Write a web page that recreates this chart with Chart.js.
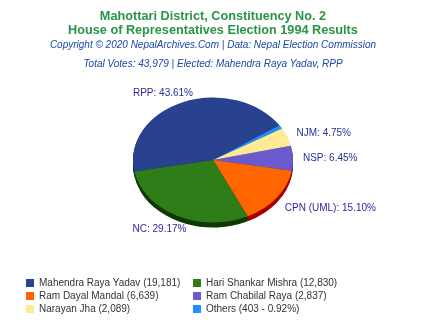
<!DOCTYPE html>
<html><head><meta charset="utf-8">
<script src="https://cdn.jsdelivr.net/npm/chart.js@4"></script>
<style>
html,body{margin:0;padding:0;background:#fff;}
#wrap{position:relative;width:426px;height:320px;overflow:hidden;font-family:"Liberation Sans",Arial,sans-serif;}
#c{position:absolute;left:0;top:0;}
.t{position:absolute;left:0;width:426px;text-align:center;white-space:nowrap;}
.h{color:#2a9446;font-weight:bold;font-size:12.7px;}
.s{color:#1c46a8;font-style:italic;font-size:10px;}
#legend{position:absolute;left:26px;top:277px;font-size:10px;color:#333;}
.li{position:absolute;white-space:nowrap;height:12px;line-height:12px;}
.li i{position:absolute;left:0;top:2px;width:8px;height:8px;}
.li span{position:absolute;left:13px;top:0;}
</style></head><body>
<div id="wrap">
<canvas id="c" width="426" height="320"></canvas>
<div class="t h" style="top:9px">Mahottari District, Constituency No. 2</div>
<div class="t h" style="top:23px">House of Representatives Election 1994 Results</div>
<div class="t s" style="top:39px">Copyright © 2020 NepalArchives.Com | Data: Nepal Election Commission</div>
<div class="t s" style="top:58px">Total Votes: 43,979 | Elected: Mahendra Raya Yadav, RPP</div>
<div id="legend"></div>
</div>
<script>
// ---- data (legend order) ----
const parties    = ["RPP", "NC", "CPN (UML)", "NSP", "NJM", "Others"];
const candidates = ["Mahendra Raya Yadav", "Hari Shankar Mishra", "Ram Dayal Mandal", "Ram Chabilal Raya", "Narayan Jha", "Others"];
const votes      = [19181, 12830, 6639, 2837, 2089, 403];
const colors     = ["#284290", "#2e7d18", "#ff6600", "#6a5acd", "#ffeb94", "#1e90ff"];
const sideColors = ["#14214a", "#0f3a05", "#a80000", "#352a80", "#b3a050", "#0d4f99"];

const total = votes.reduce((a,b)=>a+b,0);
const pct = votes.map(v => (v/total*100).toFixed(2));
// draw order: clockwise from RPP = RPP, then remaining in reverse legend order
const order = [0, 5, 4, 3, 2, 1];

const SQUASH = 62.5/80;
const DEPTH = 5;

const pie3d = {
  id: 'pie3d',
  beforeDatasetsDraw(chart){
    const ctx = chart.ctx, meta = chart.getDatasetMeta(0);
    const a0 = meta.data[0];
    const cx = a0.x, cy = a0.y;
    ctx.save();
    ctx.translate(cx, cy); ctx.scale(1, SQUASH); ctx.translate(-cx, -cy);
    for (let d = DEPTH; d >= 1; d--) {
      meta.data.forEach((el, k) => {
        const i = order[k];
        ctx.beginPath();
        ctx.moveTo(el.x, el.y + d/SQUASH);
        ctx.arc(el.x, el.y + d/SQUASH, el.outerRadius, el.startAngle, el.endAngle);
        ctx.closePath();
        ctx.fillStyle = sideColors[i];
        ctx.fill();
      });
    }
  },
  afterDatasetsDraw(chart){
    const ctx = chart.ctx;
    ctx.restore();
    const meta = chart.getDatasetMeta(0);
    ctx.save();
    ctx.font = '10px "Liberation Sans", Arial, sans-serif';
    ctx.fillStyle = '#2b2b9b';
    ctx.textBaseline = 'middle';
    meta.data.forEach((el, k) => {
      const i = order[k];
      if (i === 5) return;
      const mid = (el.startAngle + el.endAngle)/2;
      const c = Math.cos(mid), s = Math.sin(mid);
      const rx = el.outerRadius, ry = el.outerRadius*SQUASH;
      let x = el.x + c*(rx+10);
      let y = el.y + s*(ry+10) + (s > 0 ? DEPTH : 0);
      const txt = parties[i] + ": " + pct[i] + "%";
      if (c < 0) { ctx.textAlign = 'right'; x += 14; }
      else { ctx.textAlign = 'left'; }
      ctx.fillText(txt, x, y);
    });
    ctx.restore();
  }
};

new Chart(document.getElementById('c'), {
  type: 'pie',
  data: {
    labels: order.map(i => parties[i]),
    datasets: [{
      data: order.map(i => votes[i]),
      backgroundColor: order.map(i => colors[i]),
      borderWidth: 0
    }]
  },
  options: {
    responsive: false,
    animation: false,
    events: [],
    rotation: 259.3,
    layout: { padding: { left: 133, right: 133, top: 80, bottom: 80 } },
    plugins: { legend: { display: false }, tooltip: { enabled: false } }
  },
  plugins: [pie3d]
});

// HTML legend (two columns, legend order)
const lg = document.getElementById('legend');
candidates.forEach((name, i) => {
  const col = i % 2, row = Math.floor(i/2);
  const d = document.createElement('div');
  d.className = 'li';
  d.style.left = (col*167) + 'px';
  d.style.top = (row*13) + 'px';
  const label = i === 5 ? `${name} (${votes[i]} - ${pct[i]}%)` : `${name} (${votes[i].toLocaleString('en-US')})`;
  d.innerHTML = `<i style="background:${colors[i]}"></i><span>${label}</span>`;
  lg.appendChild(d);
});
</script>
</body></html>
